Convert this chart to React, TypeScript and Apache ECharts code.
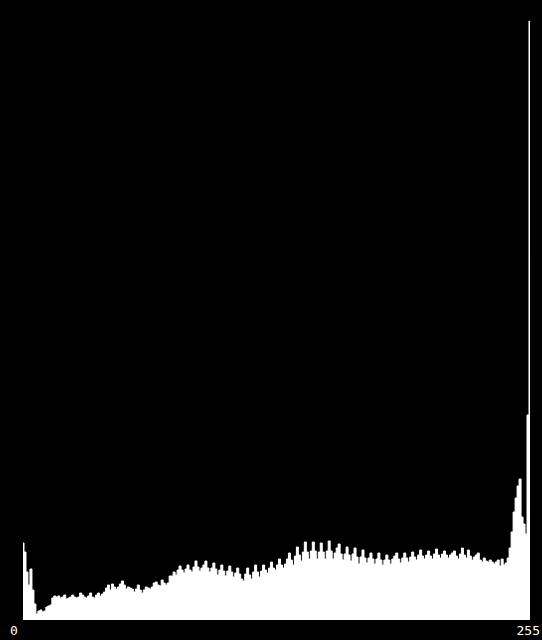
import React, { useEffect, useRef } from "react";
import * as echarts from "echarts";

// Histogram of 256 intensity levels (0..255); heights
const levels: string[] = Array.from({ length: 256 }, (_, i) => String(i));

const counts: number[] = [
  77, 68, 48, 35, 51, 30, 16, 6, 9, 10, 8, 9, 13, 14, 15, 22,
  24, 23, 24, 22, 23, 25, 21, 22, 23, 25, 23, 22, 23, 27, 25, 23,
  22, 24, 27, 23, 22, 25, 27, 24, 26, 28, 32, 35, 30, 36, 33, 31,
  33, 36, 39, 35, 31, 33, 32, 31, 28, 31, 35, 30, 27, 30, 33, 32,
  31, 33, 37, 38, 35, 34, 40, 37, 35, 37, 44, 44, 48, 45, 50, 54,
  50, 47, 51, 55, 50, 48, 53, 59, 53, 49, 52, 55, 59, 52, 48, 52,
  57, 51, 45, 50, 55, 49, 44, 49, 54, 48, 43, 47, 52, 46, 41, 39,
  46, 52, 45, 41, 48, 55, 48, 43, 49, 55, 50, 47, 52, 58, 52, 50,
  55, 61, 55, 52, 56, 61, 67, 60, 55, 64, 73, 65, 59, 68, 78, 68,
  61, 69, 78, 69, 61, 68, 77, 68, 61, 69, 79, 69, 61, 67, 72, 76,
  66, 60, 66, 73, 65, 59, 66, 72, 63, 56, 63, 70, 62, 57, 62, 67,
  61, 56, 61, 67, 60, 55, 60, 65, 60, 56, 61, 64, 67, 61, 57, 62,
  67, 62, 58, 63, 68, 63, 60, 65, 70, 64, 61, 65, 69, 64, 61, 66,
  71, 65, 62, 66, 69, 65, 62, 65, 67, 69, 64, 61, 66, 72, 65, 62,
  70, 64, 60, 63, 65, 67, 60, 58, 62, 59, 58, 60, 58, 56, 58, 60,
  54, 61, 55, 57, 62, 72, 88, 108, 122, 134, 141, 103, 96, 86, 205, 599,
];

const endLabels: string[] = ["0", "255"];

export default function App() {
  const ref = useRef<HTMLDivElement>(null);

  useEffect(() => {
    document.body.style.margin = "0";
    document.body.style.background = "#000";
    if (!ref.current) return;
    const chart = echarts.init(ref.current, null, { renderer: "svg" });
    const yMax = Math.max(...counts);
    chart.setOption({
      animation: false,
      backgroundColor: "#000",
      grid: { left: 22, right: 11, top: 21, bottom: 20 },
      xAxis: {
        type: "category",
        data: levels,
        boundaryGap: true,
        axisLine: { show: false },
        axisTick: { show: false },
        axisLabel: { show: false },
        splitLine: { show: false },
      },
      yAxis: { type: "value", min: 0, max: yMax, show: false },
      series: [
        {
          type: "line",
          data: counts,
          step: "middle",
          showSymbol: false,
          silent: true,
          lineStyle: { color: "#fff", width: 1 },
          areaStyle: { color: "#fff", opacity: 1 },
        },
      ],
      graphic: [
        {
          type: "text",
          x: 14,
          y: 630,
          style: {
            text: endLabels[0],
            fill: "#fff",
            font: '13px "DejaVu Sans Mono"',
            align: "center",
            verticalAlign: "middle",
          },
        },
        {
          type: "text",
          x: 540,
          y: 630,
          style: {
            text: endLabels[1],
            fill: "#fff",
            font: '13px "DejaVu Sans Mono"',
            align: "right",
            verticalAlign: "middle",
          },
        },
      ],
    });
    return () => chart.dispose();
  }, []);

  return (
    <div style={{ position: "fixed", left: 0, top: 0, width: 542, height: 640, background: "#000" }}>
      <div ref={ref} style={{ width: 542, height: 640 }} />
    </div>
  );
}
